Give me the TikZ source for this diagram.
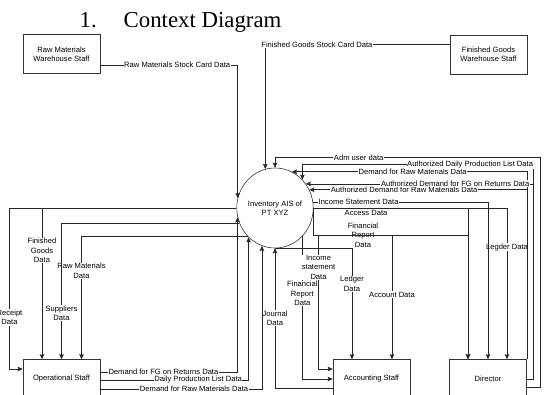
\documentclass[tikz,border=0pt]{standalone}
\usepackage{fontspec}
\setmainfont{Liberation Serif}
\newfontfamily\dfdfont{Liberation Sans}
\usepackage{tikz}
\usetikzlibrary{arrows.meta}
\usetikzlibrary{shapes.geometric}

\begin{document}
\begin{tikzpicture}[x=1pt,y=-1pt,line width=0.6pt,
        ent/.style={draw=black!80,rectangle,minimum width=77pt,minimum height=39pt,
          inner sep=0pt,align=center,font=\dfdfont\fontsize{7.6}{9.3}\selectfont},
        proc/.style={draw=black!80,ellipse,minimum width=76pt,minimum height=80pt,
          inner sep=0pt,align=center,font=\dfdfont\fontsize{7.6}{9.3}\selectfont},
        flow/.style={draw=black!85,->,>={Stealth[length=5pt,width=4.5pt,inset=0.8pt]}},
        lbl/.style={fill=white,inner sep=0.6pt,align=center,
          font=\dfdfont\fontsize{7.6}{9.3}\selectfont}]
        \useasboundingbox (0,0) rectangle (557,394);
        \clip (0,0) rectangle (557,394);

        %------------------
        % title
        %------------------
        \node[anchor=base west,font=\fontsize{22.8}{26}\selectfont] (title) at (76,27)
          {1.\hspace{27pt}Context Diagram};

        %------------------
        % entities
        %------------------
        \node[ent] (rmw) at (61.5,54) {Raw Materials\\Warehouse Staff};
        \node[ent] (fgw) at (488.5,54.5) {Finished Goods\\Warehouse Staff};
        \node[proc] (inv) at (275,208) {Inventory AIS of\\PT XYZ};
        \node[ent] (ops) at (61.5,379) {Operational Staff};
        \node[ent] (acc) at (371.5,379) {Accounting Staff};
        \node[ent] (dir) at (488,379) {Director};

        %------------------
        % system -> director
        %------------------
        \draw[flow] (inv.east) -| node[lbl,pos=0.63] {Legder Data} ([xshift=19pt]dir.north);
        \draw[flow] (inv.east) -| node[lbl,pos=0.17,yshift=-5pt] {Access Data} ([xshift=-20pt]dir.north);
        \draw[flow] (inv.east) -- ++(0,27) -| node[lbl,pos=0.16] {Financial\\Report\\Data} ([xshift=-20pt]dir.north);
        \draw[flow] (inv.9) -| node[lbl,pos=0.13] {Income Statement Data} (dir.north);

        %------------------
        % system <-> accounting
        %------------------
        \draw[flow] (inv.-46) |- node[lbl,pos=0.2] {Financial\\Report\\Data} (acc.west);
        \draw[flow] (inv.east) -- ++(0,27) -- ++(5,0) |- node[lbl,pos=0.12] {Income\\statement\\Data} ([yshift=10pt]acc.west);
        \draw[flow] (inv.south) -| node[lbl,pos=0.66] {Ledger\\Data} ([xshift=-19.5pt]acc.north);
        \draw[flow] (inv.east) -- ++(0,27) -| node[lbl,pos=0.74] {Account Data} ([xshift=20.5pt]acc.north);
        \draw[flow] ([yshift=-9pt]acc.west) -| node[lbl,pos=0.75] {Journal\\Data} (inv.south);

        %------------------
        % director -> system
        %------------------
        \draw[flow] (dir.north east) |- node[lbl,pos=0.743] {Demand for Raw Materials Data} (inv.65);
        \draw[flow] (dir.north east) |- node[lbl,pos=0.782] {Authorized Demand for Raw Materials Data} (inv.28);
        \draw[flow] (dir.east) -- ++(6,0) |- node[lbl,pos=0.636] {Authorized Daily Production List Data} ([yshift=15pt]inv.46)
          -- (inv.46);
        \draw[flow] (dir.east) -- ++(6,0) |- node[lbl,pos=0.671] {Authorized Demand for FG on Returns Data} (inv.38);
        \draw[flow] ([yshift=-8pt]dir.east) -- ++(13,0) |- node[lbl,pos=0.842] {Adm user data} ([yshift=10pt]inv.north)
          -- (inv.north);

        %------------------
        % warehouse staff -> system
        %------------------
        \draw[flow] ([yshift=-11pt]rmw.east) -| node[lbl,pos=0.28] {Raw Materials Stock Card Data} (inv.165);
        \draw[flow] ([yshift=10pt]fgw.west) -| node[lbl,pos=0.36] {Finished Goods Stock Card Data} (inv.104);

        %------------------
        % system -> operational staff
        %------------------
        \draw[flow] (inv.west) -- ++(-227,0) |- node[lbl,pos=0.34] {Receipt\\Data} ([yshift=10pt]ops.west);
        \draw[flow] (inv.west) -| node[lbl,pos=0.64] {Finished\\Goods\\Data} ([xshift=-19.5pt]ops.north);
        \draw[flow] (inv.226) -| node[lbl,pos=0.64] {Raw Materials\\Data} ([xshift=20pt]ops.north);
        \draw[flow] (inv.203) -| node[lbl,pos=0.83] {Suppliers\\Data} (ops.north);

        %------------------
        % operational staff -> system
        %------------------
        \draw[flow] ([yshift=7pt]ops.east) -| node[lbl,pos=0.23] {Demand for FG on Returns Data} (inv.194);
        \draw[flow] ([yshift=-1pt]ops.east) -| node[lbl,pos=0.33] {Daily Production List Data} (inv.228);
        \draw[flow] ([yshift=-10pt]ops.east) -| node[lbl,pos=0.29] {Demand for Raw Materials Data} (inv.251);
      \end{tikzpicture}
\end{document}
